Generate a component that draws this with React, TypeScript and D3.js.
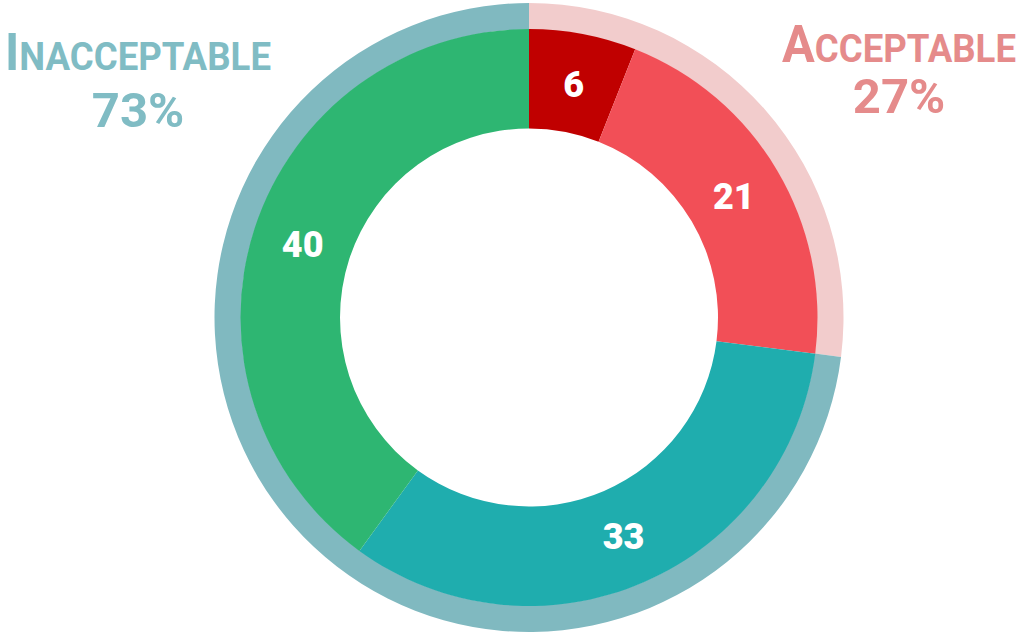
import React from "react";
import * as d3 from "d3";

const segLabels = ["6", "21", "33", "40"];
const segValues = [6, 21, 33, 40];
const segColors = ["#c00000", "#f24f57", "#1fadae", "#2eb672"];

const groupNames = ["Acceptable", "Inacceptable"];
const groupValues = [27, 73];
const groupColors = ["#f2cccc", "#80b9c0"];
const groupTextColors = ["#e58b8b", "#80bcc4"];

const W = 1024;
const H = 633;
const cx = 529;
const cy = 317.5;

export default function App() {
  const pie = d3.pie<number>().sort(null).value((d) => d);
  const segArcs = pie(segValues);
  const groupArcs = pie(groupValues);
  const arcMain = d3.arc<d3.PieArcDatum<number>>().innerRadius(189).outerRadius(288.5);
  const arcRing = d3.arc<d3.PieArcDatum<number>>().innerRadius(288).outerRadius(314.5);
  const font = "Roboto, 'DejaVu Sans', sans-serif";

  const labelPos = [
    { x: 138, y1: 70, y2: 127, w: 266, idx: 1 },
    { x: 899, y1: 62, y2: 113, w: 234, idx: 0 },
  ];

  return (
    <svg width={W} height={H} style={{ position: "absolute", left: 0, top: 0 }}>
      <g transform={`translate(${cx},${cy})`}>
        {groupArcs.map((a, i) => (
          <path key={"g" + i} d={arcRing(a) || ""} fill={groupColors[i]} />
        ))}
        {segArcs.map((a, i) => (
          <path key={"s" + i} d={arcMain(a) || ""} fill={segColors[i]} />
        ))}
        {segArcs.map((a, i) => {
          const mid = (a.startAngle + a.endAngle) / 2;
          const r = 238;
          return (
            <text
              key={"t" + i}
              x={Math.sin(mid) * r}
              y={-Math.cos(mid) * r}
              dy="0.36em"
              textAnchor="middle"
              fill="#ffffff"
              fontFamily={font}
              fontWeight={900}
              fontSize={36}
            >
              {segLabels[i]}
            </text>
          );
        })}
      </g>
      {labelPos.map((p) => {
        const name = groupNames[p.idx].toUpperCase();
        return (
          <g key={p.idx} fill={groupTextColors[p.idx]} fontFamily={font} fontWeight={700}>
            <text
              x={p.x}
              y={p.y1}
              textAnchor="middle"
              textLength={p.w}
              lengthAdjust="spacingAndGlyphs"
            >
              <tspan fontSize={52}>{name[0]}</tspan>
              <tspan fontSize={39}>{name.slice(1)}</tspan>
            </text>
            <text x={p.x} y={p.y2} textAnchor="middle" fontSize={49}>
              {groupValues[p.idx] + "%"}
            </text>
          </g>
        );
      })}
    </svg>
  );
}
